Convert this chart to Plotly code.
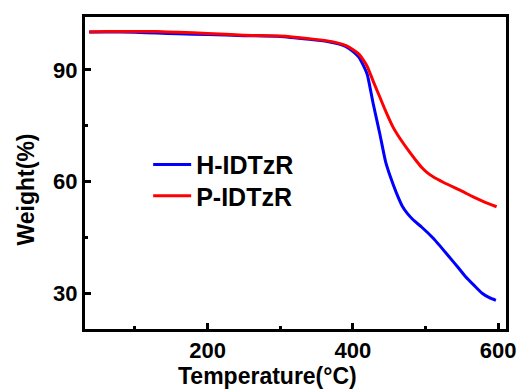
import plotly.graph_objects as go

# H-IDTzR (blue)
h_temp = [37, 60, 100, 130, 160, 200, 250, 300, 340, 365, 380, 390, 400, 408, 415, 420,
          428, 437, 445, 452, 460, 468, 475, 483, 495, 510, 520, 532, 545, 555, 567, 578, 588, 597]
h_weight = [100.2, 100.2, 100.1, 99.9, 99.7, 99.5, 99.2, 99.0, 98.2, 97.6, 97.0, 96.3, 95.0, 93.5, 91.0, 88.7,
            81.0, 73.0, 65.5, 61.2, 57.0, 53.5, 51.5, 49.8, 47.8, 45.0, 42.8, 40.0, 37.0, 34.6, 32.2, 30.1, 28.9, 28.2]

# P-IDTzR (red)
p_temp = [37, 60, 100, 130, 160, 200, 250, 300, 340, 365, 380, 390, 400, 408, 415, 420,
          428, 437, 446, 455, 465, 478, 487, 495, 502, 510, 525, 540, 551, 565, 580, 598]
p_weight = [100.2, 100.3, 100.3, 100.3, 100.1, 99.8, 99.3, 99.1, 98.4, 97.8, 97.2, 96.6, 95.5, 94.3, 92.5, 90.9,
            87.0, 82.8, 78.6, 74.8, 71.6, 68.0, 65.7, 63.8, 62.5, 61.4, 59.8, 58.4, 57.4, 56.0, 54.7, 53.3]

x_ticks = [200, 400, 600]
y_ticks = [30, 60, 90]

FONT = "Liberation Sans, Arial, sans-serif"

fig = go.Figure()
fig.add_trace(go.Scatter(x=h_temp, y=h_weight, mode="lines", name="H-IDTzR", legend="legend",
                         line=dict(color="#0000ff", width=3, shape="spline", smoothing=0.5)))
fig.add_trace(go.Scatter(x=p_temp, y=p_weight, mode="lines", name="P-IDTzR", legend="legend2",
                         line=dict(color="#ff0000", width=3, shape="spline", smoothing=0.5)))

axis_common = dict(showgrid=False, zeroline=False, showline=True, linecolor="black", linewidth=3,
                   mirror=True, ticks="inside", ticklen=6, tickwidth=3, tickcolor="black",
                   tickfont=dict(family=FONT, size=22, color="black", weight="bold"))

fig.update_xaxes(range=[31.3, 610.9], tickvals=x_ticks,
                 minor=dict(ticks="inside", ticklen=3, tickwidth=3, tickcolor="black", dtick=100, tick0=0),
                 **axis_common)
fig.update_yaxes(range=[20.5, 104.2], tickvals=y_ticks,
                 minor=dict(ticks="inside", ticklen=3, tickwidth=3, tickcolor="black", dtick=15, tick0=0),
                 **axis_common)

fig.add_annotation(text="Temperature(°C)", xref="paper", yref="paper", x=0.434, y=-0.152,
                   xanchor="center", yanchor="middle", showarrow=False,
                   font=dict(family=FONT, size=23, color="black", weight="bold"))
fig.add_annotation(text="Weight(%)", xref="paper", yref="paper", x=-0.141, y=0.446,
                   xanchor="center", yanchor="middle", showarrow=False, textangle=-90,
                   font=dict(family=FONT, size=23, color="black", weight="bold"))

legend_style = dict(xanchor="left", yanchor="top", bgcolor="rgba(0,0,0,0)",
                    font=dict(family=FONT, size=25, color="black", weight="bold"),
                    itemwidth=38)

fig.update_layout(
    width=528, height=392,
    margin=dict(l=85, r=17, t=17, b=62.5),
    paper_bgcolor="white", plot_bgcolor="white",
    showlegend=True,
    legend=dict(x=0.15, y=0.6, **legend_style),
    legend2=dict(x=0.15, y=0.5, **legend_style),
)

fig.write_html("out.html", config={"displayModeBar": False},
               post_script="document.body.style.margin='0';document.body.style.padding='0';")
